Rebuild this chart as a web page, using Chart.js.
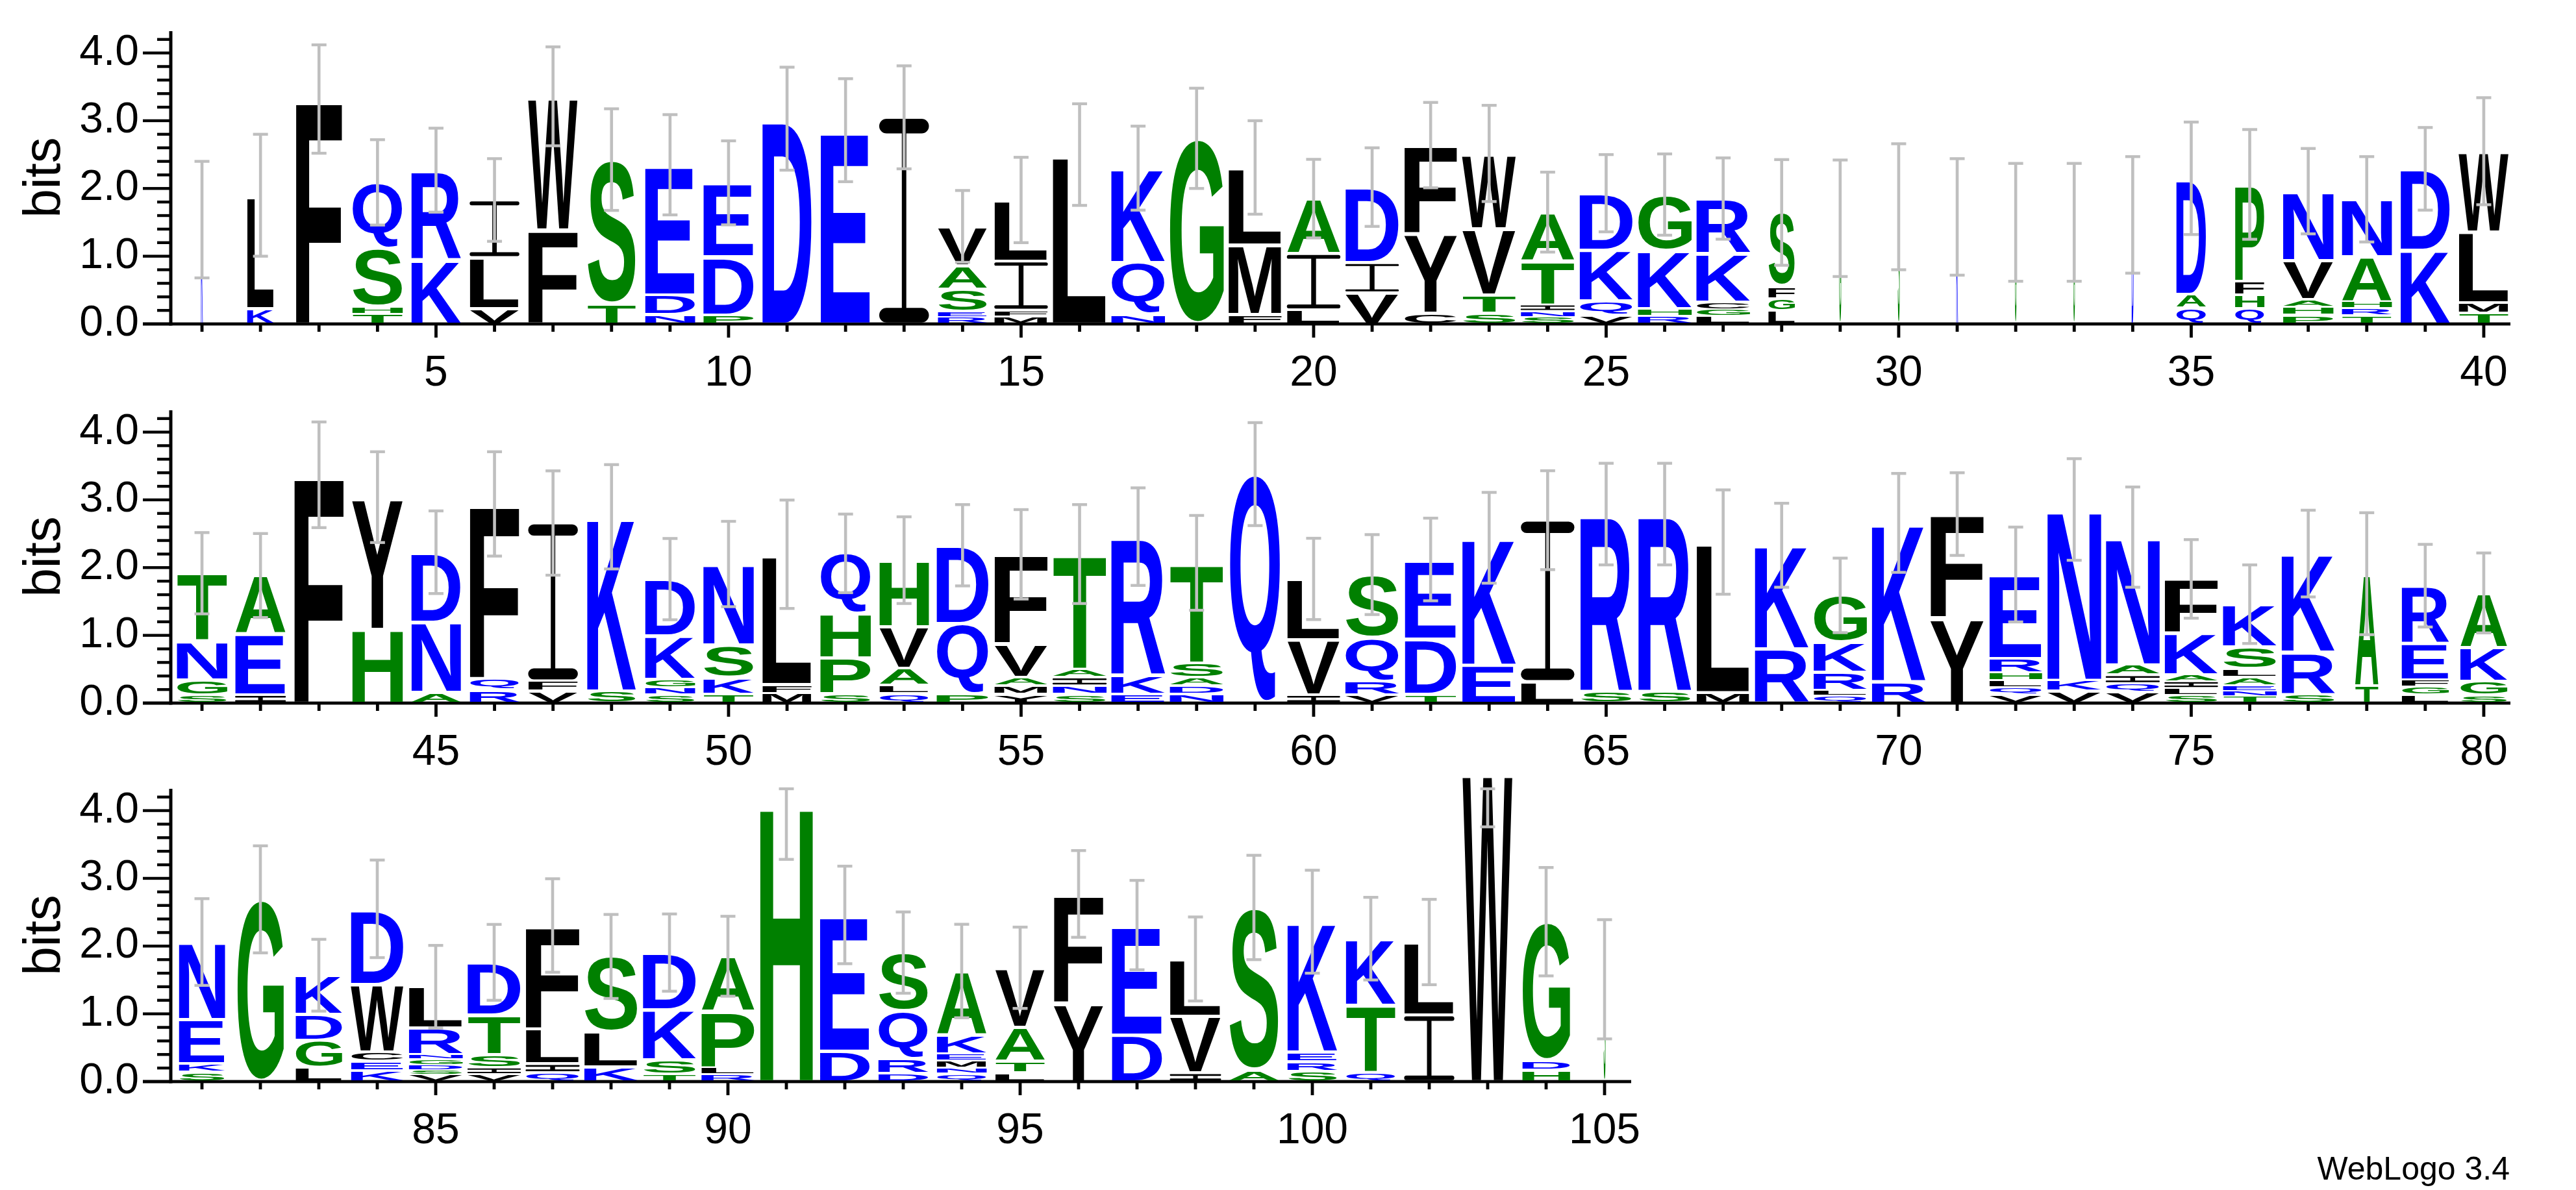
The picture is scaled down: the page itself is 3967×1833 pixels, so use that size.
<!DOCTYPE html>
<html><head><meta charset="utf-8">
<script src="https://cdn.jsdelivr.net/npm/chart.js@4.4.1/dist/chart.umd.min.js"></script>
<style>
html,body{margin:0;padding:0;background:#fff;}
body{width:3967px;height:1833px;position:relative;overflow:hidden;}
canvas{position:absolute;left:0;}
#credit{position:absolute;right:102px;top:1775px;font:50px "Liberation Sans",Arial,sans-serif;line-height:50px;color:#000;white-space:nowrap;}
</style></head><body>
<canvas id="row1" width="3967" height="620" style="top:0px;width:3967px;height:620px"></canvas>
<canvas id="row2" width="3967" height="583" style="top:620px;width:3967px;height:583px"></canvas>
<canvas id="row3" width="3967" height="663" style="top:1170px;width:3967px;height:663px"></canvas>
<div id="credit">WebLogo 3.4</div>
<script>
// ---- data ----
const positions = [1,2,3,4,5,6,7,8,9,10,11,12,13,14,15,16,17,18,19,20,21,22,23,24,25,26,27,28,29,30,31,32,33,34,35,36,37,38,39,40,
41,42,43,44,45,46,47,48,49,50,51,52,53,54,55,56,57,58,59,60,61,62,63,64,65,66,67,68,69,70,71,72,73,74,75,76,77,78,79,80,
81,82,83,84,85,86,87,88,89,90,91,92,93,94,95,96,97,98,99,100,101,102,103,104,105];

// letters of each stack, bottom to top
const stackLetters = ["K","KL","F","THSQ","KR","VLI","FW","TS","NDE","PDE","D","E","I","RESAV","MFIL","L","NQK","G","FML","LIA",
"VID","CYF","STVW","SNITA","VQKD","RHKG","LGCKR","LGFS","G","S","K","G","G","D","QAD","QHFP","PHAVN","TRHAN","KD","TMLW",
"SGNT","IEA","F","HY","AND","RQF","VFI","SK","SNGKD","TKSN","MFL","SPHQ","QLAVH","PQD","YMAVF","SNIAT","EKR","NDAST","Q","IVL",
"VRQS","TDE","EK","LI","SR","SR","ML","RK","QLRKG","RK","YF","VQLHRE","VKN","VQIAN","SLIAKF","TNEALSK","SRK","TA","LGFER","SGKA",
"SKEN","G","LGDK","KECWD","VSDGNRL","VISTD","QILF","KLS","TSKD","RLPA","H","DE","DRQS","QNMEKA","LTAV","YF","DE","IVL","AS","SREK",
"QTK","IL","W","HDG","S"];

// heights in bits of each letter, bottom to top
const stackHeights = [
[1.54],[0.23,1.67],[3.32],[0.147,0.111,0.857,0.975],[0.945,1.325],[0.225,0.755,0.85],[1.39,1.97],[0.296,2.13],[0.14,0.29,1.92],[0.135,0.858,1.09],
[3.03],[2.86],[3.05],[0.10,0.08,0.34,0.34,0.58],[0.11,0.095,0.725,0.90],[2.50],[0.137,0.773,1.39],[2.74],[0.14,1.03,1.14],[0.21,0.83,0.81],
[0.46,0.445,1.115],[0.16,1.18,1.30],[0.157,0.27,0.98,1.11],[0.106,0.085,0.097,0.643,0.72],[0.133,0.207,0.75,0.84],[0.12,0.11,0.855,0.825],[0.116,0.10,0.105,0.72,0.81],[0.2,0.176,0.18,1.09],[1.56],[1.73],
[1.58],[1.50],[1.50],[1.61],[0.236,0.204,1.71],[0.23,0.2,0.2,1.43],[0.133,0.117,0.113,0.577,1.02],[0.123,0.107,0.1,0.66,0.85],[1.09,1.2],[0.16,0.15,1.05,1.19],
[0.123,0.222,0.572,1.0],[0.123,0.9,0.86],[3.37],[1.09,1.95],[0.157,1.04,1.03],[0.195,0.17,2.575],[0.178,0.15,2.33],[0.18,2.57],[0.13,0.1,0.12,0.64,0.84],[0.137,0.246,0.48,1.19],
[0.147,0.13,1.92],[0.14,0.53,0.65,0.89],[0.14,0.13,0.25,0.61,0.98],[0.14,1.04,1.15],[0.133,0.124,0.126,0.493,1.32],[0.133,0.124,0.126,0.127,1.69],[0.137,0.28,2.04],[0.137,0.123,0.116,0.219,1.475],[3.38],[0.123,0.81,0.9],
[0.127,0.2,0.64,0.93],[0.13,0.82,1.17],[0.56,1.88],[0.32,2.38],[0.175,2.615],[0.175,2.615],[0.157,2.22],[0.8,1.53],[0.11,0.08,0.27,0.44,0.69],[0.32,2.34],
[1.26,1.53],[0.127,0.106,0.1,0.115,0.21,1.24],[0.178,0.16,2.52],[0.16,0.13,0.127,0.148,1.885],[0.123,0.1,0.1,0.1,0.61,0.8],[0.1,0.08,0.08,0.12,0.13,0.32,0.63],[0.137,0.62,1.45],[0.26,1.65],[0.123,0.12,0.1,0.54,0.85],[0.116,0.21,0.5,0.8],
[0.145,0.125,0.65,1.14],[2.69],[0.21,0.4,0.38,0.58],[0.16,0.14,0.14,1.0,1.11],[0.1,0.07,0.08,0.08,0.07,0.39,0.61],[0.11,0.1,0.19,0.585,0.775],[0.134,0.13,0.52,1.52],[0.217,0.52,1.11],[0.114,0.21,0.74,0.84],[0.114,0.096,0.83,0.81],
[4.09],[0.45,2.01],[0.127,0.217,0.7,0.86],[0.117,0.09,0.1,0.1,0.28,0.945],[0.13,0.17,0.5,0.88],[1.16,1.61],[0.69,1.62],[0.13,0.84,0.84],[0.17,2.4],[0.15,0.146,0.144,1.92],
[0.14,0.99,0.98],[0.985,1.075],[4.6],[0.17,0.14,2.05],[1.51]];

// half-length of the error bar (bits)
const errorHalf = [0.86,0.90,0.80,0.63,0.62,0.61,0.73,0.75,0.74,0.62,0.76,0.76,0.76,0.53,0.63,0.75,0.62,0.74,0.69,0.58,
0.58,0.63,0.71,0.59,0.57,0.60,0.60,0.78,0.86,0.93,0.86,0.87,0.87,0.86,0.83,0.81,0.63,0.63,0.61,0.79,
0.60,0.62,0.78,0.67,0.61,0.77,0.77,0.77,0.60,0.63,0.80,0.58,0.64,0.60,0.66,0.73,0.72,0.70,0.76,0.60,
0.59,0.61,0.67,0.73,0.75,0.75,0.77,0.62,0.55,0.73,0.61,0.70,0.75,0.74,0.58,0.58,0.64,0.90,0.61,0.59,
0.64,0.79,0.53,0.72,0.61,0.56,0.69,0.62,0.57,0.59,0.81,0.72,0.60,0.69,0.60,0.64,0.66,0.62,0.77,0.76,
0.61,0.63,0.84,0.80,0.88];

// relative stack width (occupancy)
const stackWidth = [0.035,0.49,0.85,0.93,0.91,0.91,0.91,0.90,0.92,0.93,0.91,0.92,0.91,0.91,0.98,0.99,0.99,1.0,0.98,0.98,
0.98,0.97,0.99,0.99,0.98,0.99,0.99,0.49,0.035,0.035,0.03,0.03,0.03,0.035,0.55,0.54,0.93,0.92,0.91,0.92,
0.93,0.93,0.91,0.93,0.91,0.91,0.91,0.90,0.92,0.93,0.91,0.93,0.91,0.96,0.98,0.99,0.99,0.99,0.94,0.97,
0.99,0.95,0.99,0.98,0.95,0.97,0.98,0.99,0.98,0.99,0.98,0.97,0.99,0.99,0.98,0.99,0.98,0.43,0.87,0.87,
0.85,0.86,0.86,0.97,0.99,0.98,0.99,0.99,0.98,0.98,0.97,0.92,0.92,0.92,0.92,0.91,0.93,0.94,0.92,0.92,
0.92,0.92,0.92,0.88,0.035];

const rowFirst = [1, 41, 81];
const rowLast = [40, 80, 105];
const xTickLabels = [5,10,15,20,25,30,35,40,45,50,55,60,65,70,75,80,85,90,95,100,105];
const yTickValues = [0,1,2,3,4];
const yMinorValues = [0,0.2,0.4,0.6,0.8,1,1.2,1.4,1.6,1.8,2,2.2,2.4,2.6,2.8,3,3.2,3.4,3.6,3.8,4,4.2];
const Y_MAX = 4.3219;

// ---- styles ----
const BLUE = '#0000ff', GREEN = '#008000', BLACK = '#000000', ERR = '#bfbfbf';
function letterColor(ch){
  if ('RKDENQ'.includes(ch)) return BLUE;
  if ('SGHTAP'.includes(ch)) return GREEN;
  return BLACK;
}
const GLYPH_FONT = 'bold 400px "Liberation Sans", Arial, sans-serif';
const glyphCache = {};
function glyph(ctx, ch){
  if (!glyphCache[ch]) {
    ctx.save();
    ctx.font = GLYPH_FONT; ctx.textAlign = 'left'; ctx.textBaseline = 'alphabetic';
    const m = ctx.measureText(ch);
    glyphCache[ch] = {l: m.actualBoundingBoxLeft, r: m.actualBoundingBoxRight, a: m.actualBoundingBoxAscent, d: m.actualBoundingBoxDescent};
    ctx.restore();
  }
  return glyphCache[ch];
}
function pill(ctx, x, y, w, h){
  const r = Math.min(h / 2, w / 2);
  if (ctx.roundRect) ctx.roundRect(x, y, w, h, r); else ctx.rect(x, y, w, h);
}
function drawLetter(ctx, ch, x0, x1, yTop, yBot){
  if (x1 - x0 <= 0.2 || yBot - yTop <= 0.3) return;
  const w = x1 - x0, h = yBot - yTop;
  if (ch === 'I') {
    // serif "I" as in the WebLogo glyph set
    const bh = Math.max(h * 0.072, Math.min(h * 0.28, 3));
    const sw = Math.max(w * 0.09, 0.6);
    ctx.save();
    ctx.fillStyle = letterColor(ch);
    ctx.beginPath();
    pill(ctx, x0, yTop, w, bh);
    pill(ctx, x0, yBot - bh, w, bh);
    ctx.rect(x0 + w / 2 - sw / 2, yTop + bh / 2, sw, h - bh);
    ctx.fill();
    ctx.restore();
    return;
  }
  const g = glyph(ctx, ch);
  const gw = g.l + g.r, gh = g.a + g.d;
  ctx.save();
  ctx.translate(x0, yTop);
  ctx.scale(w / gw, h / gh);
  ctx.font = GLYPH_FONT; ctx.textAlign = 'left'; ctx.textBaseline = 'alphabetic';
  ctx.fillStyle = letterColor(ch);
  ctx.fillText(ch, g.l, g.a);
  ctx.restore();
}

function makeLogoPlugin(idx){
  return {
    id: 'logo',
    afterDatasetsDraw(chart){
      const ctx = chart.ctx, xs = chart.scales.x, ys = chart.scales.y, area = chart.chartArea;
      ctx.save();
      // axes
      ctx.fillStyle = '#000';
      const y0 = ys.getPixelForValue(0), yT = ys.getPixelForValue(Y_MAX);
      const axX = area.left - 3;
      ctx.fillRect(axX - 2.5, yT, 5, y0 - yT + 2.5);
      ctx.fillRect(axX - 43, y0 - 2.4, area.right - 4 - (axX - 43), 4.8);
      yMinorValues.forEach(v => {
        const y = ys.getPixelForValue(v);
        const len = yTickValues.includes(v) ? 43 : 21;
        ctx.fillRect(axX - len, y - 2.2, len, 4.4);
      });
      idx.forEach((i, k) => {
        const x = xs.getPixelForValue(k);
        const len = xTickLabels.includes(positions[i]) ? 21 : 12;
        ctx.fillRect(x - 2.4, y0, 4.8, len);
      });
      // letters
      const nSets = chart.data.datasets.length;
      for (let r = 0; r < nSets; r++) {
        const meta = chart.getDatasetMeta(r);
        meta.data.forEach((el, k) => {
          const i = idx[k];
          const ch = stackLetters[i][r];
          if (!ch) return;
          const p = el.getProps(['x','y','base','width'], true);
          const top = Math.min(p.y, p.base), bot = Math.max(p.y, p.base);
          const hgt = bot - top;
          const pad = Math.min(2.2, hgt * 0.15);
          const lw = p.width * stackWidth[i];
          drawLetter(ctx, ch, p.x - lw / 2, p.x + lw / 2, top + pad, bot - pad);
        });
      }
      // error bars
      ctx.fillStyle = ERR;
      idx.forEach((i, k) => {
        const total = stackHeights[i].reduce((a, b) => a + b, 0);
        const lo = Math.max(0, total - errorHalf[i]);
        const hi = Math.min(Y_MAX, total + errorHalf[i]);
        const x = xs.getPixelForValue(k);
        const yl = ys.getPixelForValue(lo), yh = ys.getPixelForValue(hi);
        ctx.fillRect(x - 2.3, yh, 4.6, yl - yh);
        ctx.fillRect(x - 11.5, yh - 2.2, 23, 4.4);
        ctx.fillRect(x - 11.5, yl - 2.2, 23, 4.4);
      });
      ctx.restore();
    }
  };
}

const geoms = [
  {id:'row1', top:48, right:97, xh:121},
  {id:'row2', top:12, right:97, xh:120},
  {id:'row3', top:45, right:1451, xh:167}
];

geoms.forEach((g, row) => {
  const idx = [];
  positions.forEach((p, i) => { if (p >= rowFirst[row] && p <= rowLast[row]) idx.push(i); });
  const labels = idx.map(i => String(positions[i]));
  const maxRank = Math.max(...idx.map(i => stackHeights[i].length));
  const datasets = [];
  for (let r = 0; r < maxRank; r++) {
    datasets.push({
      data: idx.map(i => (stackHeights[i][r] !== undefined ? stackHeights[i][r] : 0)),
      backgroundColor: 'rgba(0,0,0,0)', borderWidth: 0,
      barPercentage: 84 / 90, categoryPercentage: 1, stack: 'logo'
    });
  }
  new Chart(document.getElementById(g.id), {
    type: 'bar',
    data: { labels, datasets },
    options: {
      responsive: false, animation: false, devicePixelRatio: 1, events: [],
      layout: { padding: { left: 0, right: g.right, top: g.top, bottom: 0 } },
      plugins: { legend: { display: false }, tooltip: { enabled: false } },
      scales: {
        x: {
          type: 'category', stacked: true, offset: true,
          grid: { display: false, drawTicks: false }, border: { display: false },
          ticks: {
            autoSkip: false, maxRotation: 0, minRotation: 0, padding: 37, color: '#000',
            font: { family: '"Liberation Sans", Arial, sans-serif', size: 66 },
            callback: function(v){ const lab = this.getLabelForValue(v); return xTickLabels.includes(Number(lab)) ? lab : ''; }
          },
          afterFit: s => { s.height = g.xh; s.paddingLeft = 0; s.paddingRight = 0; }
        },
        y: {
          type: 'linear', stacked: true, min: 0, max: Y_MAX,
          grid: { display: false, drawTicks: false }, border: { display: false },
          ticks: {
            stepSize: 1, includeBounds: false, padding: 52, color: '#000',
            font: { family: '"Liberation Sans", Arial, sans-serif', size: 66 },
            callback: v => (yTickValues.includes(v) ? v.toFixed(1) : '')
          },
          title: { display: true, text: 'bits', color: '#000',
            font: { family: '"Liberation Sans", Arial, sans-serif', size: 80 },
            padding: { top: 22, bottom: 0 } },
          afterFit: s => { s.width = 266; s.paddingTop = 0; s.paddingBottom = 0; }
        }
      }
    },
    plugins: [makeLogoPlugin(idx)]
  });
});
</script>
</body></html>
